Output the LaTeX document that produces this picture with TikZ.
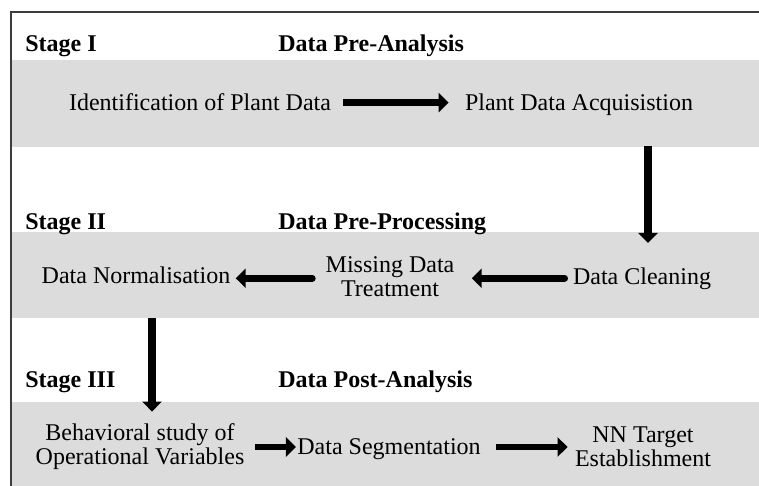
\documentclass[tikz,border=0pt]{standalone}
\usepackage{fontspec}
\setmainfont{Liberation Serif}
\usetikzlibrary{arrows.meta}
\definecolor{bandgray}{RGB}{220,220,220}
\definecolor{framegray}{RGB}{60,60,60}
\begin{document}
\begin{tikzpicture}[x=0.5pt,y=-0.5pt,
  stage/.style={anchor=base west,inner sep=0pt,font=\fontsize{12}{12}\selectfont\bfseries},
  item/.style={inner sep=0pt,align=center,font=\fontsize{12}{12}\selectfont},
  bigarrow/.style={line width=3.4pt,-{Triangle[length=5pt,width=9.5pt]}}]
\useasboundingbox (0,0) rectangle (759,486);
% grey bands
\fill[bandgray] (12,60) rectangle (759,147);
\fill[bandgray] (12,232) rectangle (759,318);
\fill[bandgray] (12,402) rectangle (759,486);
\draw[framegray,line width=0.7pt] (11,486) -- (11,12) -- (759,12);
% stage I
\node[stage] (s1) at (25,52) {Stage I};
\node[stage] (t1) at (278,52) {Data Pre-Analysis};
\node[item,anchor=base] (ident) at (200,111) {Identification of Plant Data};
\node[item,anchor=base] (acq) at (579,111) {Plant Data Acquisistion};
\draw[bigarrow,shorten <=6pt,shorten >=8pt] (ident.east) -- (acq.west |- ident.east);
% stage II
\node[stage] (s2) at (25,229) {Stage II};
\node[stage] (t2) at (278,229) {Data Pre-Processing};
\node[item,anchor=base] (clean) at (642,284) {Data Cleaning};
\node[item] (missing) at (390,277) {Missing Data\\Treatment};
\node[item,anchor=base] (norm) at (136,283) {Data Normalisation};
\draw[bigarrow,line width=4pt,shorten <=14.5pt,shorten >=12pt]
  ([xshift=3pt]acq.south -| clean.north) -- ([xshift=3pt]clean.north);
\draw[bigarrow,line cap=round,shorten <=4pt,shorten >=8.5pt] (clean.west) -- (missing.east |- clean.west);
\draw[bigarrow,line cap=round,shorten <=6.5pt,shorten >=2.5pt] (missing.west |- clean.west) -- (norm.east |- clean.west);
% stage III
\node[stage] (s3) at (25,387) {Stage III};
\node[stage] (t3) at (278,387) {Data Post-Analysis};
\node[item] (beh) at (140,447) {Behavioral study of\\Operational Variables};
\node[item,anchor=base] (seg) at (389,454) {Data Segmentation};
\node[item] (nn) at (643,447) {NN Target\\Establishment};
\draw[bigarrow,line width=4pt,shorten <=17pt,shorten >=6pt]
  ([xshift=6pt]norm.south -| beh.north) -- ([xshift=6pt]beh.north);
\draw[bigarrow,shorten <=5pt,shorten >=0.5pt] (beh.east) -- (seg.west |- beh.east);
\draw[bigarrow,shorten <=7.5pt,shorten >=3.5pt] (seg.east |- beh.east) -- (nn.west |- beh.east);
\end{tikzpicture}
\end{document}
